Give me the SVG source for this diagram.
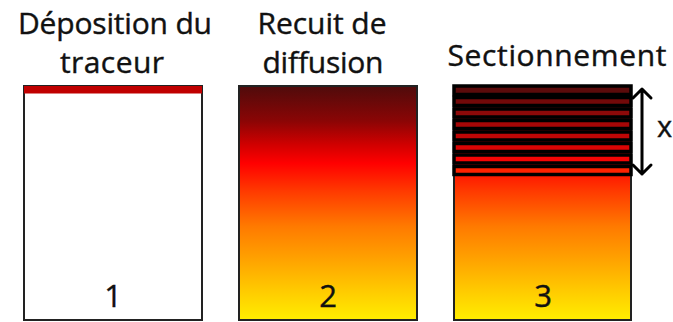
<svg xmlns="http://www.w3.org/2000/svg" width="673" height="322" viewBox="0 0 673 322">
<defs>
<linearGradient id="heat" x1="0" y1="0" x2="0" y2="1">
<stop offset="0" stop-color="#4f0b0b"/>
<stop offset="0.15" stop-color="#8b0505"/>
<stop offset="0.25" stop-color="#d00000"/>
<stop offset="0.33" stop-color="#ff0000"/>
<stop offset="0.45" stop-color="#ff3a00"/>
<stop offset="0.6" stop-color="#ff7a00"/>
<stop offset="0.75" stop-color="#ffa500"/>
<stop offset="0.88" stop-color="#ffcc00"/>
<stop offset="1" stop-color="#ffee00"/>
</linearGradient>
</defs>
<style>
.box{stroke:#222;stroke-width:2}
.t{font-family:"Open Sans","DejaVu Sans",sans-serif;font-size:30px;fill:#111;stroke:#111;stroke-width:0.4;text-anchor:middle}
.n{font-family:"Open Sans","DejaVu Sans",sans-serif;font-size:31px;fill:#111;stroke:#111;stroke-width:0.4;text-anchor:middle}
.s{stroke:#000;stroke-width:3.5}
.arr{fill:none;stroke:#000;stroke-width:3;stroke-linecap:round;stroke-linejoin:round}
</style>
<g id="panel1">
<text class="t" x="115" y="34" textLength="194">Déposition du</text>
<text class="t" x="112" y="73" textLength="104">traceur</text>
<rect class="box" x="24" y="86" width="178" height="234" fill="#fff"/>
<rect x="24" y="86" width="178" height="7.5" fill="#c00000"/>
<text class="n" x="113" y="307">1</text>
</g>
<g id="panel2">
<text class="t" x="322" y="34" textLength="129">Recuit de</text>
<text class="t" x="323" y="73" textLength="121">diffusion</text>
<rect class="box" x="239" y="86" width="178" height="234" fill="url(#heat)"/>
<text class="n" x="328" y="307">2</text>
</g>
<g id="panel3">
<text class="t" x="557" y="66" textLength="219">Sectionnement</text>
<rect class="box" x="454" y="86" width="177" height="234" fill="url(#heat)"/>
<rect class="s" x="454" y="86" width="177" height="8.5" fill="#5b0b0b"/>
<rect class="s" x="454" y="97.5" width="177" height="8" fill="#730909"/>
<rect class="s" x="454" y="109" width="177" height="8" fill="#8d0909"/>
<rect class="s" x="454" y="120.5" width="177" height="8" fill="#a50707"/>
<rect class="s" x="454" y="132" width="177" height="8" fill="#c00606"/>
<rect class="s" x="454" y="143.5" width="177" height="8" fill="#dc0404"/>
<rect class="s" x="454" y="155" width="177" height="8" fill="#f50505"/>
<rect class="s" x="454" y="166.5" width="177" height="8" fill="#ff2200"/>
<text class="n" x="543" y="307">3</text>
</g>
<g id="connectors">
<path class="arr" d="M642 89V174M633 98L642 89L651 98M633 165L642 174L651 165"/>
<text class="n" x="657" y="137" style="text-anchor:start;font-size:29px">x</text>
</g>
</svg>
